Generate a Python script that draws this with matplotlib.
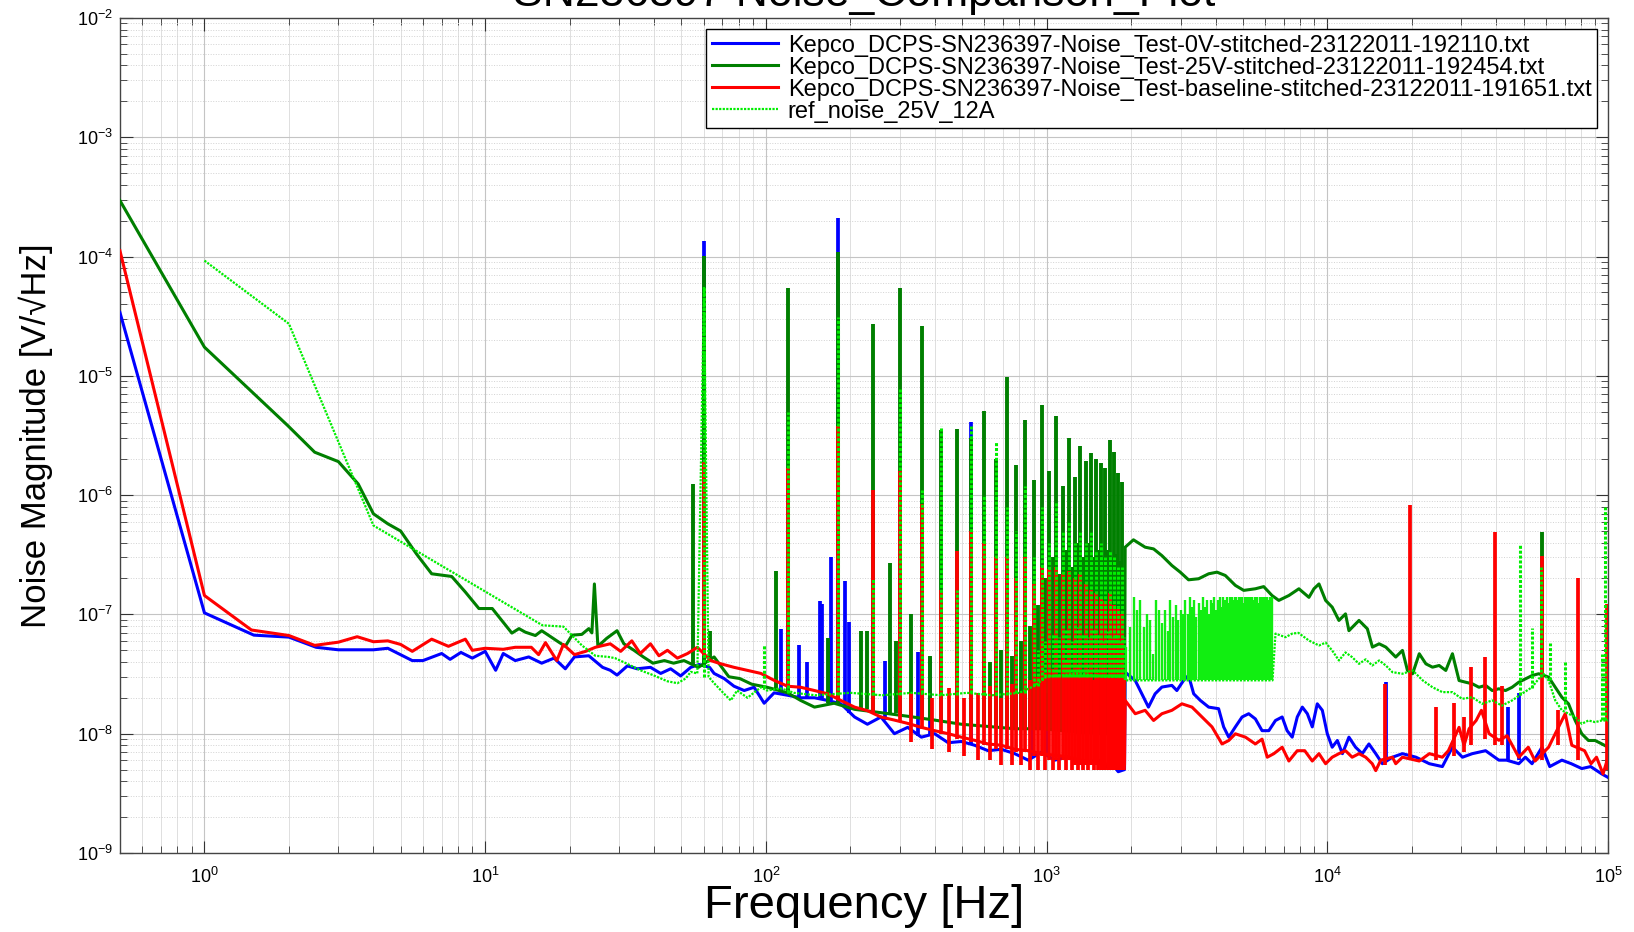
import numpy as np
import matplotlib
matplotlib.use("Agg")
import matplotlib.pyplot as plt
from matplotlib.ticker import LogLocator, NullFormatter

plt.rcParams['font.family'] = ['Liberation Sans', 'DejaVu Sans']

title = 'SN236397 Noise_Comparison_Plot'
labels = ['Kepco_DCPS-SN236397-Noise_Test-0V-stitched-23122011-192110.txt',
          'Kepco_DCPS-SN236397-Noise_Test-25V-stitched-23122011-192454.txt',
          'Kepco_DCPS-SN236397-Noise_Test-baseline-stitched-23122011-191651.txt',
          'ref_noise_25V_12A']

# ---- 0V run (blue): (Hz, V/rtHz)
blue_base = [
    (0.5, 3.4e-5), (1.0, 1.03e-7), (1.5, 6.7e-8), (2.0, 6.45e-8), (2.5, 5.3e-8), (3.0, 5.05e-8),
    (4.0, 5.05e-8), (4.5, 5.2e-8), (5.5, 4.1e-8), (6.0, 4.1e-8), (7.0, 4.7e-8), (7.5, 4.2e-8),
    (8.2, 4.8e-8), (9.0, 4.3e-8), (10.0, 4.9e-8), (10.9, 3.4e-8), (11.6, 4.7e-8), (12.8, 4.1e-8),
    (14.3, 4.4e-8), (15.9, 3.9e-8), (17.6, 4.3e-8), (19.3, 3.5e-8), (20.8, 4.4e-8), (23.4, 4.5e-8),
    (26.2, 3.6e-8), (27.9, 3.4e-8), (29.5, 3.1e-8), (32.1, 3.7e-8), (34.8, 3.5e-8), (38.8, 3.6e-8),
    (42.2, 3.2e-8), (45.8, 3.5e-8), (49.7, 3.05e-8), (54.0, 3.6e-8), (57.8, 3.8e-8), (63.0, 3.6e-8),
    (65.4, 3.2e-8), (71.0, 2.9e-8), (77.0, 2.5e-8), (83.7, 2.3e-8), (90.8, 2.45e-8), (98.6, 1.8e-8),
    (107, 2.2e-8), (119.5, 2.1e-8), (133, 2.0e-8), (149, 2.0e-8), (166, 1.9e-8), (185, 1.78e-8),
    (207, 1.38e-8), (230, 1.2e-8), (257, 1.38e-8), (287, 1.0e-8), (320, 1.13e-8), (358, 9.35e-9),
    (399, 1.0e-8), (446, 8.4e-9), (497, 8.6e-9), (554, 8.0e-9), (619, 7.2e-9), (690, 7.4e-9),
    (770, 6.8e-9), (860, 6.0e-9), (959, 7.0e-9), (1070, 6.0e-9), (1194, 6.4e-9), (1333, 5.6e-9),
    (1450, 5.9e-9), (1572, 6.0e-9), (1650, 5.2e-9), (1720, 5.5e-9), (1800, 4.8e-9), (1895, 5.0e-9),
    (1905, 3.28e-8), (2069, 2.79e-8), (2184, 2.16e-8), (2306, 1.67e-8), (2436, 2.16e-8), (2575, 2.46e-8),
    (2795, 2.54e-8), (2911, 2.3e-8), (3074, 2.79e-8), (3204, 3.08e-8), (3342, 2.16e-8), (3530, 1.9e-8),
    (3779, 1.67e-8), (4100, 1.62e-8), (4273, 1.14e-8), (4456, 9.35e-9), (4705, 1.14e-8), (4970, 1.38e-8),
    (5248, 1.47e-8), (5543, 1.33e-8), (5856, 1.06e-8), (6190, 1.06e-8), (6537, 1.29e-8), (6906, 1.38e-8),
    (7191, 1.06e-8), (7499, 9.35e-9), (7816, 1.38e-8), (8147, 1.67e-8), (8490, 1.47e-8), (8840, 1.14e-8),
    (9210, 1.78e-8), (9600, 1.57e-8), (10000, 9.98e-9), (10410, 7.7e-9), (10860, 8.77e-9), (11320, 6.8e-9),
    (11940, 9.35e-9), (12610, 7.7e-9), (13320, 6.8e-9), (14070, 8.2e-9), (14880, 6.8e-9), (15710, 5.6e-9),
    (17060, 6.35e-9), (18520, 6.8e-9), (20700, 6.35e-9), (23100, 5.6e-9), (25700, 5.3e-9), (27900, 7.7e-9),
    (30300, 6.35e-9), (32850, 6.8e-9), (36630, 7.2e-9), (40840, 6.0e-9), (43500, 6.0e-9), (48090, 5.6e-9),
    (50780, 6.35e-9), (53620, 5.6e-9), (58180, 7.7e-9), (62000, 5.3e-9), (68500, 6.0e-9), (74000, 5.6e-9),
    (80650, 5.1e-9), (86700, 5.3e-9), (94970, 4.6e-9), (100000, 4.3e-9)]
blue_spikes = [  # (Hz, floor, peak)
    (60.2, 3.7e-8, 1.36e-4), (113, 2.1e-8, 7.5e-8), (131, 2.0e-8, 5.5e-8), (140, 2.0e-8, 4.0e-8),
    (156, 2.0e-8, 1.3e-7), (159, 2.0e-8, 1.23e-7), (170, 1.9e-8, 3.05e-7), (180, 1.85e-8, 2.1e-4),
    (191, 1.7e-8, 1.92e-7), (198, 1.5e-8, 8.6e-8), (265, 1.3e-8, 4.1e-8), (348, 9.5e-9, 4.8e-8),
    (384, 9.5e-9, 4.4e-8), (540, 8.0e-9, 4.1e-6), (890, 6.5e-9, 2.5e-8), (1000, 6.5e-9, 2.2e-8),
    (16160, 6.0e-9, 2.7e-8), (44000, 6.0e-9, 1.67e-8), (48100, 6.0e-9, 2.2e-8)]

# ---- 25V run (dark green)
dk_base = [
    (0.5, 2.95e-4), (1.0, 1.74e-5), (1.98, 3.83e-6), (2.47, 2.29e-6), (3.0, 1.91e-6), (3.53, 1.24e-6),
    (4.0, 6.97e-7), (4.5, 5.75e-7), (5.0, 5.0e-7), (5.7, 3.2e-7), (6.45, 2.19e-7), (7.6, 2.08e-7),
    (8.5, 1.54e-7), (9.5, 1.12e-7), (10.6, 1.12e-7), (12.45, 6.97e-8), (13.2, 7.6e-8), (13.9, 7.1e-8),
    (15.1, 6.65e-8), (15.9, 7.3e-8), (18.3, 5.85e-8), (19.3, 5.4e-8), (20.4, 6.7e-8), (22.1, 6.8e-8),
    (23.4, 7.6e-8), (24.0, 7.0e-8), (24.5, 1.8e-7), (25.2, 5.5e-8), (25.8, 5.67e-8), (27.1, 6.3e-8),
    (29.5, 7.3e-8), (31.2, 5.67e-8), (33.9, 5.0e-8), (36.6, 4.4e-8), (39.6, 3.9e-8), (43.5, 4.1e-8),
    (46.9, 3.9e-8), (51.1, 4.1e-8), (57.5, 3.6e-8), (65.4, 4.4e-8), (73.8, 3.0e-8), (80.7, 2.9e-8),
    (89, 2.6e-8), (101, 2.45e-8), (119.5, 2.2e-8), (133, 1.9e-8), (149, 1.67e-8), (175, 1.8e-8),
    (207, 1.6e-8), (257, 1.5e-8), (320, 1.4e-8), (399, 1.3e-8), (497, 1.2e-8), (619, 1.15e-8),
    (770, 1.1e-8), (959, 1.1e-8), (1194, 1.05e-8), (1572, 1.0e-8), (1895, 1.0e-8),
    (1905, 3.66e-7), (2039, 4.22e-7), (2244, 3.66e-7), (2405, 3.54e-7), (2575, 3.11e-7), (2795, 2.57e-7),
    (2993, 2.26e-7), (3204, 1.95e-7), (3480, 1.99e-7), (3779, 2.19e-7), (4046, 2.26e-7), (4332, 2.12e-7),
    (4705, 1.75e-7), (5038, 1.59e-7), (5543, 1.64e-7), (5935, 1.71e-7), (6354, 1.44e-7), (6718, 1.31e-7),
    (7296, 1.44e-7), (7922, 1.64e-7), (8602, 1.39e-7), (8963, 1.64e-7), (9340, 1.8e-7), (9862, 1.31e-7),
    (10410, 1.15e-7), (11000, 8.9e-8), (11610, 1.01e-7), (11940, 7.3e-8), (12970, 8.9e-8), (13890, 7.57e-8),
    (14480, 5.32e-8), (15300, 5.67e-8), (16160, 5.32e-8), (17530, 4.39e-8), (18520, 4.99e-8), (19300, 3.39e-8),
    (20130, 3.18e-8), (21260, 4.68e-8), (22450, 3.85e-8), (23700, 3.61e-8), (25030, 3.73e-8), (26430, 3.39e-8),
    (27910, 4.68e-8), (29470, 2.79e-8), (31110, 2.7e-8), (32850, 2.62e-8), (34690, 2.45e-8), (36630, 2.54e-8),
    (38680, 2.3e-8), (40840, 2.38e-8), (43130, 2.3e-8), (45540, 2.45e-8), (48090, 2.7e-8), (50780, 2.88e-8),
    (53620, 3.07e-8), (56620, 3.18e-8), (61430, 2.98e-8), (64870, 2.45e-8), (68500, 2.02e-8), (72330, 1.78e-8),
    (76380, 1.29e-8), (80650, 9.97e-9), (85170, 8.77e-9), (89930, 8.77e-9), (94970, 8.22e-9), (100000, 7.7e-9)]
dk_spikes = [
    (55.0, 3.8e-8, 1.24e-6), (63, 4.0e-8, 7.3e-8), (109, 2.4e-8, 2.33e-7), (166, 1.8e-8, 6.3e-8),
    (218, 1.6e-8, 7.3e-8), (230, 1.6e-8, 7.3e-8), (276, 1.5e-8, 2.7e-7), (291, 1.5e-8, 6.0e-8),
    (330, 1.4e-8, 1.0e-7), (384, 1.3e-8, 4.5e-8), (58180, 3.1e-8, 4.9e-7),
    # in-between-harmonic lines, 0.6 - 1.9 kHz
    (630, 1.15e-8, 4.0e-8), (690, 1.1e-8, 5.0e-8), (750, 1.1e-8, 4.5e-8), (810, 1.1e-8, 6.0e-8),
    (870, 1.1e-8, 8.0e-8), (930, 1.1e-8, 1.2e-7), (990, 1.1e-8, 2.0e-7), (1050, 1.05e-8, 3.0e-7),
    (1110, 1.05e-8, 2.2e-7), (1170, 1.05e-8, 3.5e-7), (1230, 1.05e-8, 2.5e-7), (1290, 1.0e-8, 4.0e-7),
    (1350, 1.0e-8, 3.0e-7), (1410, 1.0e-8, 4.0e-7), (1470, 1.0e-8, 3.0e-7), (1530, 1.0e-8, 3.5e-7),
    (1590, 1.0e-8, 3.0e-7), (1650, 1.0e-8, 3.5e-7), (1710, 1.0e-8, 3.0e-7), (1770, 1.0e-8, 3.2e-7),
    (1830, 1.0e-8, 2.8e-7), (1890, 1.0e-8, 2.5e-7)]

# ---- baseline run (red)
red_base = [
    (0.5, 1.12e-4), (1.0, 1.44e-7), (1.47, 7.4e-8), (2.0, 6.65e-8), (2.47, 5.5e-8), (3.0, 5.85e-8),
    (3.5, 6.5e-8), (4.0, 5.9e-8), (4.5, 6.0e-8), (5.0, 5.6e-8), (5.5, 4.9e-8), (6.45, 6.2e-8),
    (7.4, 5.4e-8), (8.5, 6.2e-8), (9.0, 5.0e-8), (10.0, 5.2e-8), (11.6, 5.1e-8), (12.8, 5.3e-8),
    (14.6, 5.3e-8), (15.5, 4.6e-8), (16.4, 5.8e-8), (18.0, 4.1e-8), (19.0, 5.6e-8), (20.8, 4.6e-8),
    (22.8, 4.9e-8), (24.7, 5.3e-8), (27.9, 5.67e-8), (30.4, 4.9e-8), (33.3, 6.0e-8), (35.7, 4.7e-8),
    (38.8, 5.67e-8), (41.6, 4.5e-8), (44.6, 5.0e-8), (48.4, 4.3e-8), (52.6, 4.7e-8), (57.0, 5.3e-8),
    (63.6, 4.1e-8), (69.2, 3.85e-8), (77, 3.6e-8), (86, 3.39e-8), (96, 3.2e-8), (107, 2.8e-8),
    (119.5, 2.5e-8), (133, 2.45e-8), (149, 2.3e-8), (166, 2.16e-8), (185, 1.9e-8), (207, 1.67e-8),
    (230, 1.56e-8), (257, 1.38e-8), (287, 1.3e-8), (320, 1.22e-8), (358, 1.13e-8), (399, 1.06e-8),
    (446, 1.0e-8), (497, 9.35e-9), (554, 8.8e-9), (619, 8.2e-9), (690, 8.0e-9), (770, 7.4e-9),
    (860, 7.2e-9), (959, 6.8e-9), (1070, 6.6e-9), (1194, 6.4e-9), (1333, 6.0e-9), (1572, 5.6e-9),
    (1700, 5.5e-9), (1895, 5.5e-9), (1905, 1.9e-8), (2069, 1.47e-8), (2244, 1.57e-8), (2405, 1.29e-8),
    (2575, 1.47e-8), (2795, 1.57e-8), (3035, 1.78e-8), (3296, 1.67e-8), (3578, 1.38e-8), (3884, 1.14e-8),
    (4217, 8.2e-9), (4456, 8.77e-9), (4705, 9.98e-9), (5110, 9.35e-9), (5543, 8.2e-9), (5856, 9.0e-9),
    (6110, 6.35e-9), (6450, 6.8e-9), (6906, 7.7e-9), (7296, 5.9e-9), (7816, 7.2e-9), (8310, 7.2e-9),
    (8840, 5.9e-9), (9340, 6.8e-9), (9862, 5.6e-9), (10410, 6.35e-9), (11000, 6.8e-9), (11610, 7.2e-9),
    (12260, 6.35e-9), (12970, 6.8e-9), (13700, 6.35e-9), (14460, 5.6e-9), (14880, 4.9e-9), (15500, 6.0e-9),
    (17060, 6.35e-9), (17530, 5.6e-9), (18520, 6.35e-9), (21260, 5.9e-9), (23100, 6.8e-9), (25700, 6.35e-9),
    (27000, 7.2e-9), (29470, 1.13e-8), (30700, 8.0e-9), (32000, 1.1e-8), (33900, 1.29e-8), (35400, 1.57e-8),
    (37700, 1.0e-8), (40840, 8.8e-9), (43700, 9.6e-9), (48090, 6.35e-9), (52000, 7.7e-9), (55000, 5.9e-9),
    (61430, 7.7e-9), (64870, 1.0e-8), (70400, 1.47e-8), (74300, 8.0e-9), (82500, 7.2e-9), (87000, 5.6e-9),
    (91000, 6.35e-9), (96000, 4.6e-9), (100000, 6.35e-9)]
red_spikes = [
    (16070, 5.5e-9, 2.6e-8), (19700, 6.0e-9, 8.3e-7), (24400, 6.0e-9, 1.67e-8), (28200, 6.5e-9, 1.8e-8),
    (30700, 7.0e-9, 1.38e-8), (32400, 8.0e-9, 3.6e-8), (36400, 9.0e-9, 4.4e-8), (39700, 8.0e-9, 4.9e-7),
    (42000, 8.0e-9, 2.5e-8), (58180, 6.0e-9, 3.1e-7), (66600, 8.0e-9, 1.57e-8), (78400, 6.0e-9, 2.0e-7),
    (99000, 5.0e-9, 1.23e-7),
    # in-between-harmonic hash, 300 Hz - 1.9 kHz
    (330, 8.5e-9, 2.2e-8), (390, 7.5e-9, 2.0e-8), (450, 7.0e-9, 2.4e-8), (510, 6.5e-9, 2.0e-8),
    (570, 6.0e-9, 2.2e-8), (630, 6.0e-9, 2.5e-8), (690, 5.5e-9, 2.0e-8), (750, 5.5e-9, 2.6e-8),
    (810, 5.5e-9, 2.2e-8), (870, 5.0e-9, 2.8e-8), (930, 5.0e-9, 3.0e-8), (990, 5.0e-9, 3.2e-8),
    (1050, 5.0e-9, 3.5e-8), (1110, 5.0e-9, 3.0e-8), (1170, 5.0e-9, 4.0e-8), (1230, 5.0e-9, 3.2e-8),
    (1290, 5.0e-9, 3.8e-8), (1350, 5.0e-9, 3.0e-8), (1410, 5.0e-9, 3.5e-8), (1470, 5.0e-9, 2.8e-8),
    (1530, 5.0e-9, 3.2e-8), (1590, 5.0e-9, 3.6e-8), (1650, 5.0e-9, 3.0e-8), (1710, 5.0e-9, 3.3e-8),
    (1770, 5.0e-9, 2.9e-8), (1830, 5.0e-9, 3.1e-8), (1890, 5.0e-9, 3.0e-8)]

# ---- reference curve (light green, dotted)
lg_base = [
    (1.0, 9.25e-5), (2.0, 2.73e-5), (4.0, 5.56e-7), (16.0, 8.1e-8), (19.0, 7.9e-8), (22.1, 5.5e-8),
    (24.7, 4.5e-8), (27.5, 4.4e-8), (29.0, 4.3e-8), (32.1, 3.85e-8), (35.7, 3.4e-8), (39.6, 3.1e-8),
    (44.6, 2.75e-8), (48.4, 2.65e-8), (51.8, 2.9e-8), (54.0, 3.3e-8), (57.0, 3.2e-8), (60.2, 5.6e-5),
    (62.5, 3.0e-8), (65.4, 2.65e-8), (71, 2.16e-8), (75, 1.9e-8), (79, 2.3e-8), (86, 2.0e-8),
    (96, 2.45e-8), (101, 2.3e-8), (113, 2.4e-8), (126, 2.2e-8), (150, 2.1e-8), (200, 2.2e-8),
    (260, 2.1e-8), (330, 2.2e-8), (420, 2.1e-8), (520, 2.2e-8), (640, 2.1e-8), (800, 2.2e-8),
    (900, 2.5e-8), (1000, 3.0e-8), (1300, 3.2e-8), (1600, 3.0e-8), (1895, 3.0e-8), (1905, 2.8e-8),
    (6380, 2.8e-8), (6537, 6.9e-8), (7100, 6.44e-8), (7499, 6.9e-8), (7890, 7.0e-8), (8600, 6.04e-8),
    (9340, 5.49e-8), (9862, 5.8e-8), (10410, 4.98e-8), (11000, 4.11e-8), (11610, 4.8e-8), (12260, 4.38e-8),
    (12970, 3.85e-8), (13700, 4.2e-8), (14460, 3.73e-8), (15300, 4.11e-8), (16160, 3.73e-8), (17060, 3.28e-8),
    (18520, 3.18e-8), (20130, 3.39e-8), (21900, 2.79e-8), (23700, 2.45e-8), (25700, 2.23e-8), (27900, 2.23e-8),
    (30200, 1.96e-8), (32850, 2.02e-8), (35600, 1.78e-8), (38680, 1.9e-8), (41900, 1.72e-8), (45540, 1.9e-8),
    (49300, 2.16e-8), (53620, 2.45e-8), (56600, 2.88e-8), (58900, 3.18e-8), (61430, 2.79e-8), (64870, 1.9e-8),
    (68500, 1.57e-8), (72330, 1.47e-8), (76380, 1.38e-8), (80650, 1.21e-8), (85170, 1.29e-8), (89930, 1.25e-8),
    (94970, 1.29e-8), (100000, 1.29e-8)]
lg_spikes = [
    (98.6, 2.4e-8, 5.5e-8), (48500, 2.1e-8, 3.9e-7), (53600, 2.4e-8, 7.7e-8), (57500, 3.0e-8, 2.5e-7),
    (62000, 2.8e-8, 5.8e-8), (70400, 1.6e-8, 4.0e-8), (95000, 1.3e-8, 4.7e-8), (97800, 1.3e-8, 7.9e-7),
    (930, 2.5e-8, 5.0e-8), (990, 3.0e-8, 6.0e-8), (1050, 3.0e-8, 7.0e-8), (1110, 3.0e-8, 6.5e-8),
    (1170, 3.0e-8, 7.5e-8), (1230, 3.0e-8, 6.0e-8), (1290, 3.0e-8, 7.8e-8), (1350, 3.0e-8, 7.0e-8),
    (1410, 3.0e-8, 6.5e-8), (1470, 3.0e-8, 7.5e-8), (1530, 3.0e-8, 7.0e-8), (1590, 3.0e-8, 6.0e-8),
    (1650, 3.0e-8, 7.2e-8), (1710, 3.0e-8, 6.5e-8), (1770, 3.0e-8, 7.0e-8), (1830, 3.0e-8, 6.0e-8),
    (1890, 3.0e-8, 6.5e-8)]
# dense comb 1.9 - 6.4 kHz
lg_band_hz = [1920, 1980, 2040, 2100, 2160, 2220, 2280, 2340, 2400, 2460, 2520, 2580, 2640, 2700, 2760,
              2820, 2880, 2940, 3000, 3060, 3120, 3180, 3240, 3300, 3360, 3420, 3480, 3540, 3600, 3660,
              3720, 3780, 3840, 3900, 3960, 4020, 4080, 4140, 4200, 4260, 4320, 4380, 4440, 4500, 4560,
              4620, 4680, 4740, 4800, 4860, 4920, 4980, 5040, 5100, 5160, 5220, 5280, 5340, 5400, 5460,
              5520, 5580, 5640, 5700, 5760, 5820, 5880, 5940, 6000, 6060, 6120, 6180, 6240, 6300, 6360]
lg_band_peak = [5.3e-8, 7.8e-8, 1.39e-7, 1.08e-7, 1.31e-7, 7.8e-8, 1.01e-7, 8.9e-8, 4.7e-8, 1.31e-7,
                1.08e-7, 8.4e-8, 1.08e-7, 7.3e-8, 1.31e-7, 9.5e-8, 1.2e-7, 8.9e-8, 1.08e-7, 1.01e-7,
                1.31e-7, 1.01e-7, 1.39e-7, 1.15e-7, 1.31e-7, 9.5e-8, 1.24e-7, 1.08e-7, 1.39e-7, 1.15e-7,
                1.31e-7, 1.01e-7, 1.31e-7, 1.24e-7, 1.39e-7, 1.08e-7, 1.31e-7, 1.39e-7, 1.15e-7, 1.39e-7,
                1.31e-7, 1.39e-7, 1.24e-7, 1.39e-7, 1.39e-7, 1.31e-7, 1.39e-7, 1.39e-7, 1.31e-7, 1.39e-7,
                1.39e-7, 1.39e-7, 1.24e-7, 1.39e-7, 1.39e-7, 1.31e-7, 1.39e-7, 1.39e-7, 1.39e-7, 1.31e-7,
                1.39e-7, 1.39e-7, 1.39e-7, 1.24e-7, 1.39e-7, 1.39e-7, 1.39e-7, 1.31e-7, 1.39e-7, 1.39e-7,
                1.39e-7, 1.31e-7, 1.39e-7, 1.39e-7, 1.39e-7]
lg_band_floor = 2.8e-8

# ---- 60 Hz line harmonics (peak and floor per trace)
harm_hz = [60, 120, 180, 240, 300, 360, 420, 480, 540, 600, 660, 720, 780, 840, 900, 960, 1020, 1080,
           1140, 1200, 1260, 1320, 1380, 1440, 1500, 1560, 1620, 1680, 1740, 1800, 1860]
dk_harm_peak = [1.02e-4, 5.5e-5, 1.09e-4, 2.7e-5, 5.5e-5, 2.6e-5, 3.5e-6, 3.6e-6, 3.0e-6, 5.1e-6, 2.0e-6,
                9.7e-6, 1.8e-6, 4.3e-6, 1.34e-6, 5.7e-6, 1.6e-6, 4.65e-6, 1.2e-6, 3.0e-6, 1.41e-6, 2.6e-6,
                1.95e-6, 2.25e-6, 2.0e-6, 1.85e-6, 1.7e-6, 2.9e-6, 2.3e-6, 1.54e-6, 1.29e-6]
dk_harm_floor = [3.6e-8, 2.2e-8, 1.8e-8, 1.55e-8, 1.45e-8, 1.35e-8, 1.3e-8, 1.2e-8, 1.2e-8, 1.15e-8, 1.15e-8,
                 1.1e-8, 1.1e-8, 1.1e-8, 1.1e-8, 1.1e-8, 1.05e-8, 1.05e-8, 1.05e-8, 1.05e-8, 1.05e-8, 1.0e-8,
                 1.0e-8, 1.0e-8, 1.0e-8, 1.0e-8, 1.0e-8, 1.0e-8, 1.0e-8, 1.0e-8, 1.0e-8]
red_harm_peak = [1.9e-6, 1.7e-6, 3.8e-6, 1.1e-6, 1.6e-6, 8.5e-7, 1.6e-7, 3.4e-7, 5.0e-7, 4.0e-7, 3.0e-7,
                 3.0e-7, 2.0e-7, 3.0e-7, 1.8e-7, 2.5e-7, 2.4e-7, 2.5e-7, 2.2e-7, 2.3e-7, 2.0e-7, 2.2e-7,
                 1.8e-7, 1.6e-7, 1.5e-7, 1.4e-7, 1.3e-7, 1.5e-7, 1.2e-7, 1.1e-7, 1.0e-7]
red_harm_floor = [4.5e-8, 2.5e-8, 1.9e-8, 1.5e-8, 1.25e-8, 1.1e-8, 1.0e-8, 9e-9, 8.5e-9, 8e-9, 7.5e-9,
                  7.5e-9, 7e-9, 7e-9, 6.5e-9, 6.5e-9, 6e-9, 6e-9, 6e-9, 6e-9, 5.5e-9, 5.5e-9, 5.5e-9,
                  5.5e-9, 5.5e-9, 5e-9, 5e-9, 5e-9, 5e-9, 5e-9, 5e-9]
lg_harm_peak = [5.6e-5, 5.0e-6, 3.1e-5, 2.0e-7, 7.8e-6, 1.1e-6, 3.8e-6, 1.6e-7, 3.8e-6, 1.0e-6, 2.8e-6,
                8.0e-7, 5.0e-7, 1.2e-6, 3.0e-7, 8.0e-7, 4.0e-7, 9.0e-7, 5.0e-7, 6.0e-7, 4.0e-7, 5.0e-7,
                4.0e-7, 5.0e-7, 3.5e-7, 4.0e-7, 3.0e-7, 3.5e-7, 3.0e-7, 2.5e-7, 2.5e-7]
lg_harm_floor = [3.0e-8, 2.2e-8, 2.1e-8, 2.1e-8, 2.1e-8, 2.2e-8, 2.1e-8, 2.1e-8, 2.2e-8, 2.1e-8, 2.1e-8,
                 2.1e-8, 2.2e-8, 2.2e-8, 2.5e-8, 2.8e-8, 3e-8, 3e-8, 3e-8, 3e-8, 3e-8, 3e-8, 3e-8,
                 3e-8, 3e-8, 3e-8, 3e-8, 3e-8, 3e-8, 3e-8, 3e-8]

dotted = (0, (1, 0.6))

fig = plt.figure(figsize=(16.34, 9.32), dpi=100)
ax = fig.add_axes([0.0734, 0.0848, 0.9107, 0.8959])


def draw(base, spikes, color, lw, spike_lw, ls, z, label):
    f, v = np.array(base).T
    ax.plot(f, v, color=color, lw=lw, ls=ls, zorder=z, label=label)
    sf, lo, hi = np.array(spikes).T
    ax.vlines(sf, lo, hi, colors=color, lw=spike_lw, linestyles=ls, zorder=z)


draw(blue_base, blue_spikes, '#0000ff', 2.2, 2.7, '-', 3, labels[0])
draw(dk_base, dk_spikes + list(zip(harm_hz, dk_harm_floor, dk_harm_peak)),
     '#007f00', 2.2, 2.8, '-', 4, labels[1])
draw(red_base, red_spikes + list(zip(harm_hz, red_harm_floor, red_harm_peak)),
     '#ff0000', 2.2, 2.7, '-', 5, labels[2])
draw(lg_base, lg_spikes + list(zip(harm_hz, lg_harm_floor, lg_harm_peak)),
     '#00ee00', 1.6, 2.2, dotted, 6, labels[3])
ax.vlines(lg_band_hz, lg_band_floor, lg_band_peak, colors='#11ee11', lw=1.7, zorder=6)

ax.set_xscale('log')
ax.set_yscale('log')
ax.set_xlim(0.5, 1e5)
ax.set_ylim(1e-9, 1e-2)

ax.xaxis.set_major_locator(LogLocator(base=10, numticks=20))
ax.yaxis.set_major_locator(LogLocator(base=10, numticks=20))
ax.xaxis.set_minor_locator(LogLocator(base=10, subs=range(2, 10), numticks=20))
ax.yaxis.set_minor_locator(LogLocator(base=10, subs=range(2, 10), numticks=20))
ax.xaxis.set_minor_formatter(NullFormatter())
ax.yaxis.set_minor_formatter(NullFormatter())

ax.grid(True, which='major', color='#c4c4c4', lw=0.8, ls='-')
ax.xaxis.grid(True, which='minor', color='#dedede', lw=0.7, ls='-')
ax.yaxis.grid(True, which='minor', color='#d2d2d2', lw=0.7, ls=':')
ax.set_axisbelow(True)

ax.tick_params(which='both', direction='in', top=True, right=True, colors='#333333')
ax.tick_params(which='major', length=9, width=0.8, labelsize=13, labelcolor='black')
ax.tick_params(which='minor', length=5, width=0.6)
ax.tick_params(axis='x', pad=10)
ax.tick_params(axis='y', pad=5)
for s in ax.spines.values():
    s.set_color('#444444')
    s.set_linewidth(1.0)

ax.set_xlabel('Frequency [Hz]', fontsize=34)
ax.xaxis.set_label_coords(0.5, -0.037)
ax.set_ylabel('Noise Magnitude [V/\u221aHz]', fontsize=25)
ax.yaxis.set_label_coords(-0.045, 0.5)

fig.text(0.529, 1 - 6 / 932, title, ha='center', va='baseline', fontsize=32)

leg = ax.legend(loc='upper right', fontsize=17, frameon=True, fancybox=False, edgecolor='black',
                framealpha=1, handlelength=2.8, handletextpad=0.4, borderaxespad=0.45,
                labelspacing=0.0, borderpad=0.25)
leg.get_frame().set_linewidth(1.0)

fig.savefig('out.png', dpi=100)
